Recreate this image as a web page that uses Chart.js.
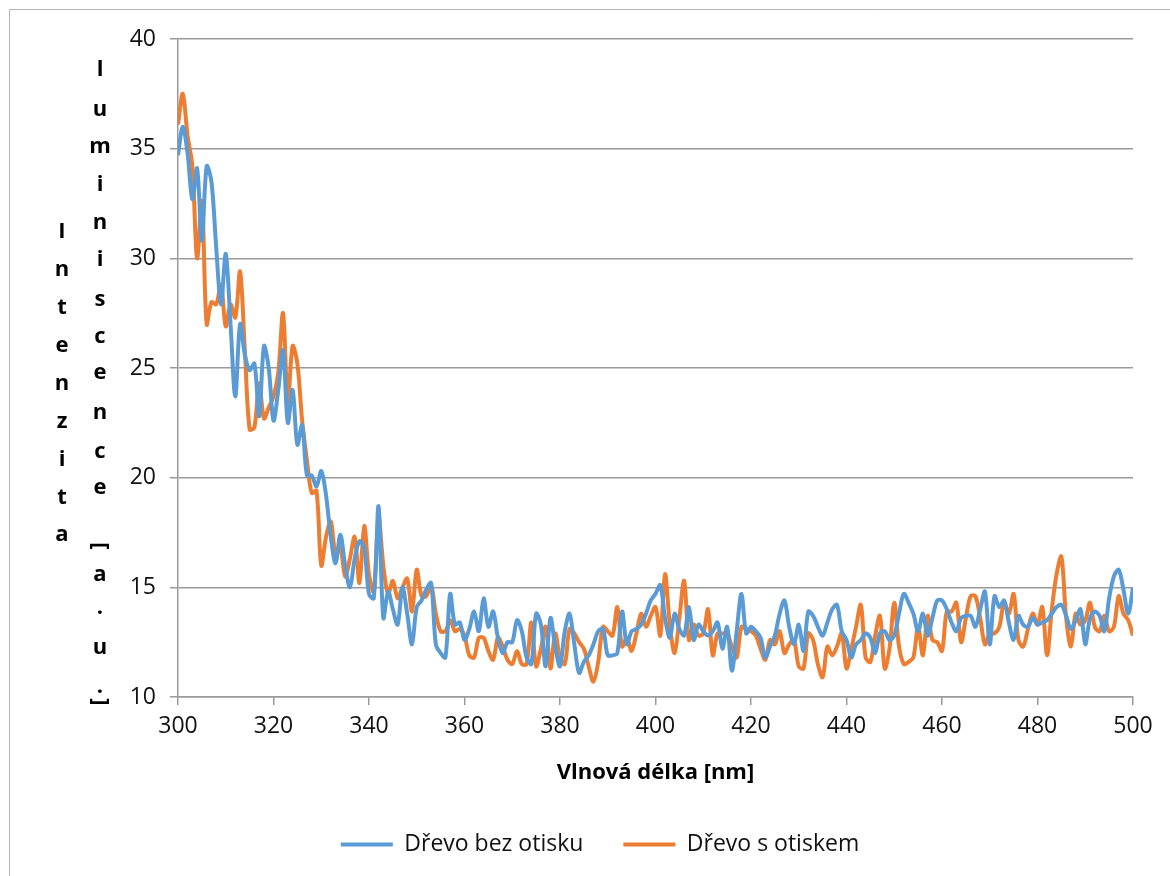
<!DOCTYPE html>
<html lang="cs">
<head>
<meta charset="utf-8">
<title>Luminiscence dřeva</title>
<script src="https://cdn.jsdelivr.net/npm/chart.js@4.4.1/dist/chart.umd.min.js"></script>
<style>
    html, body { margin: 0; padding: 0; background: #ffffff; }
    #graf { display: block; }
</style>
</head>
<body>
<canvas id="graf" width="1170" height="876"></canvas>
<script>
// PRVNÍ VLNOVÁ DÉLKA, MĚŘENO PO 1 nm
const vlnovaDelkaOd = 300;

// INTENZITA LUMINISCENCE - DŘEVO BEZ OTISKU (300-500 nm)
const drevoBezOtisku = [
    34.7, 36.0, 34.8, 32.7, 34.1, 30.8, 34.2, 33.5, 30.5, 27.9,
    30.2, 27.0, 23.7, 27.0, 25.6, 24.9, 25.2, 22.8, 26.0, 25.0,
    22.6, 24.0, 25.8, 22.5, 24.0, 21.5, 22.4, 20.1, 20.1, 19.6,
    20.3, 19.2, 17.3, 16.1, 17.4, 16.0, 15.0, 16.3, 17.1, 16.8,
    14.7, 14.5, 18.7, 13.6, 14.8, 14.0, 13.3, 15.0, 13.8, 12.4,
    14.1, 14.4, 14.9, 15.2, 12.4, 12.0, 11.8, 14.7, 13.3, 13.4,
    12.6, 13.1, 13.9, 13.0, 14.5, 13.2, 13.9, 12.7, 12.0, 12.5,
    12.5, 13.5, 13.0, 11.8, 11.5, 13.8, 13.3, 11.4, 13.6, 12.3,
    11.4, 13.0, 13.8, 12.4, 11.1, 11.6, 11.9, 12.4, 13.0, 13.1,
    11.9, 11.9, 12.0, 13.9, 12.4, 13.0, 13.1, 13.3, 13.8, 14.4,
    14.7, 15.1, 13.6, 12.7, 13.8, 13.1, 12.8, 14.1, 12.6, 13.3,
    13.0, 12.8, 13.0, 13.4, 12.2, 13.2, 11.2, 13.0, 14.7, 12.9,
    13.2, 13.0, 12.7, 11.8, 12.3, 12.8, 13.8, 14.4, 13.2, 12.4,
    13.3, 12.1, 13.9, 13.7, 13.2, 12.8, 13.4, 14.0, 14.2, 13.0,
    12.6, 11.8, 12.4, 12.6, 12.9, 12.7, 12.0, 12.9, 13.0, 12.6,
    12.8, 13.8, 14.7, 14.3, 13.8, 13.0, 13.8, 12.8, 13.6, 14.4,
    14.4, 14.0, 13.4, 13.0, 13.6, 13.7, 13.7, 13.2, 14.0, 14.8,
    12.4, 14.6, 14.1, 14.4, 13.4, 12.6, 13.7, 13.3, 13.2, 13.6,
    13.3, 13.4, 13.5, 13.8, 14.1, 14.2, 13.7, 13.1, 13.5, 14.0,
    12.4, 13.6, 13.9, 13.7, 13.0, 14.5, 15.5, 15.8, 14.9, 13.8,
    15.0
];

// INTENZITA LUMINISCENCE - DŘEVO S OTISKEM (300-500 nm)
const drevoSOtiskem = [
    36.1, 37.5, 35.6, 34.2, 30.0, 32.6, 27.0, 28.0, 27.9, 28.8,
    26.9, 27.9, 27.3, 29.4, 25.8, 22.2, 22.3, 24.3, 22.7, 23.2,
    23.7, 24.8, 27.5, 23.4, 26.0, 25.2, 22.6, 20.8, 19.3, 19.4,
    16.0, 17.3, 18.0, 16.5, 16.8, 15.5, 16.3, 17.3, 15.2, 17.8,
    15.6, 14.8, 18.2, 16.0, 14.7, 15.3, 14.5, 15.0, 15.4, 13.9,
    15.8, 14.6, 14.6, 15.1, 13.8, 13.0, 13.0, 13.5, 13.0, 13.1,
    12.8, 11.9, 11.8, 12.7, 12.7, 12.1, 11.7, 12.7, 12.3, 11.7,
    11.5, 12.1, 11.5, 11.5, 13.4, 11.4, 12.2, 13.2, 11.3, 12.9,
    11.8, 11.5, 13.1, 12.9, 12.5, 12.2, 11.4, 10.7, 11.6, 13.2,
    13.0, 12.8, 14.1, 12.3, 12.7, 12.1, 12.9, 13.8, 13.2, 13.7,
    14.1, 12.8, 15.6, 13.3, 12.0, 13.6, 15.3, 12.6, 13.3, 12.8,
    12.9, 14.0, 11.9, 12.9, 12.9, 12.9, 12.3, 11.8, 13.2, 13.1,
    13.0, 12.8, 12.2, 11.7, 12.6, 12.4, 13.0, 12.0, 12.4, 12.6,
    11.4, 11.3, 12.9, 12.6, 11.5, 10.9, 12.3, 11.9, 12.3, 12.9,
    11.3, 12.2, 13.2, 14.2, 11.8, 11.6, 12.8, 13.7, 11.3, 12.2,
    14.3, 12.3, 11.5, 11.6, 11.8, 13.2, 11.9, 13.7, 12.6, 12.5,
    12.1, 13.9, 13.9, 14.3, 12.5, 13.6, 14.6, 14.6, 13.6, 12.4,
    12.9, 12.9, 13.2, 14.3, 13.8, 14.7, 12.6, 12.3, 13.1, 13.8,
    13.3, 14.1, 11.9, 14.0, 15.6, 16.4, 13.6, 12.3, 13.8, 13.3,
    13.5, 14.3, 13.2, 13.0, 13.7, 13.0, 13.2, 14.6, 13.8, 13.5,
    12.8
];

const nazvySerii = ['Dřevo bez otisku', 'Dřevo s otiskem'];
const barvySerii = ['#5b9bd5', '#ed7d31'];

// ROZSAHY OS
const osaX = { min: 300, max: 500, krok: 20 };
const osaY = { min: 10, max: 40, krok: 5 };

// POPISKY OS
const popisekX = 'Vlnová délka [nm]';
const popisekY1 = 'Intenzita';
const popisekY2 = 'luminiscence [a.u.]';

const pismo = '"Open Sans", "Noto Sans", sans-serif';
const barvaMrizky = '#9a9a9a';

// PŘEVOD HODNOT NA BODY {x, y}
function naBody(hodnoty) {
    return hodnoty.map((v, i) => ({ x: vlnovaDelkaOd + i, y: v }));
}

// RÁMEČEK GRAFU (LEVÝ A HORNÍ OKRAJ)
const ramecek = {
    id: 'ramecek',
    beforeDraw(chart) {
        const c = chart.ctx;
        c.save();
        c.strokeStyle = '#b3b3b3';
        c.lineWidth = 1;
        c.beginPath();
        c.moveTo(9.5, chart.height);
        c.lineTo(9.5, 9.5);
        c.lineTo(chart.width, 9.5);
        c.stroke();
        c.restore();
    }
};

// SVISLÝ POPISEK OSY Y - PÍSMENA POD SEBOU VE DVOU SLOUPCÍCH
const popisekOsyY = {
    id: 'popisekOsyY',
    afterDraw(chart) {
        const c = chart.ctx;
        c.save();
        c.font = 'bold 22px ' + pismo;
        c.fillStyle = '#000000';
        c.textAlign = 'center';
        c.textBaseline = 'middle';

        // první sloupec
        Array.from(popisekY1).forEach((znak, i) => {
            c.fillText(znak, 62, 232 + i * 37.9);
        });

        // druhý sloupec, závorky jsou otočené a zabírají menší řádek
        const radky = [70, 110, 147, 185, 223, 260, 300, 337, 373, 413, 452, 488,
                       null, 546, 575, 608, 648, 687, 702];
        Array.from(popisekY2).forEach((znak, i) => {
            const y = radky[i];
            if (y === null || znak === ' ') return;
            if (znak === '[' || znak === ']') {
                c.save();
                c.translate(100, y);
                c.rotate(Math.PI / 2);
                c.fillText(znak, 0, 0);
                c.restore();
            } else {
                c.fillText(znak, 100, y);
            }
        });
        c.restore();
    }
};

const ctx = document.getElementById('graf');

const graf = new Chart(ctx, {
    type: 'line',
    data: {
        datasets: [
            {
                label: nazvySerii[0],
                data: naBody(drevoBezOtisku),
                borderColor: barvySerii[0],
                backgroundColor: barvySerii[0],
                borderWidth: 4,
                pointRadius: 0,
                tension: 0.33,
                fill: false
            },
            {
                label: nazvySerii[1],
                data: naBody(drevoSOtiskem),
                borderColor: barvySerii[1],
                backgroundColor: barvySerii[1],
                borderWidth: 4,
                pointRadius: 0,
                tension: 0.33,
                fill: false
            }
        ]
    },
    options: {
        responsive: false,
        animation: false,
        devicePixelRatio: 1,
        // levý okraj posouvá legendu doprava, šířka osy Y ho vyrovná
        layout: { padding: { top: 39, right: 37, left: 67, bottom: 10 } },
        scales: {
            x: {
                type: 'linear',
                min: osaX.min,
                max: osaX.max,
                ticks: {
                    stepSize: osaX.krok,
                    color: '#111111',
                    padding: 8,
                    maxRotation: 0,
                    font: { family: pismo, size: 23 }
                },
                grid: {
                    drawOnChartArea: false,
                    color: barvaMrizky,
                    lineWidth: 1.5,
                    tickLength: 8
                },
                border: { color: barvaMrizky, width: 1.5 },
                title: {
                    display: true,
                    text: popisekX,
                    color: '#000000',
                    padding: { top: 4, bottom: 7 },
                    font: { family: pismo, size: 22, weight: 'bold' }
                },
                afterFit: (s) => { s.height = 96; }
            },
            y: {
                min: osaY.min,
                max: osaY.max,
                ticks: {
                    stepSize: osaY.krok,
                    color: '#111111',
                    padding: 14,
                    font: { family: pismo, size: 23 }
                },
                grid: {
                    color: barvaMrizky,
                    lineWidth: 1.5,
                    tickLength: 8
                },
                border: { color: barvaMrizky, width: 1.5 },
                afterFit: (s) => { s.width = 111; }
            }
        },
        plugins: {
            legend: {
                position: 'bottom',
                labels: {
                    usePointStyle: true,
                    pointStyle: 'line',
                    pointStyleWidth: 52,
                    color: '#111111',
                    padding: 40,
                    font: { family: pismo, size: 23 }
                }
            },
            tooltip: { enabled: false }
        }
    },
    plugins: [ramecek, popisekOsyY]
});
</script>
</body>
</html>
